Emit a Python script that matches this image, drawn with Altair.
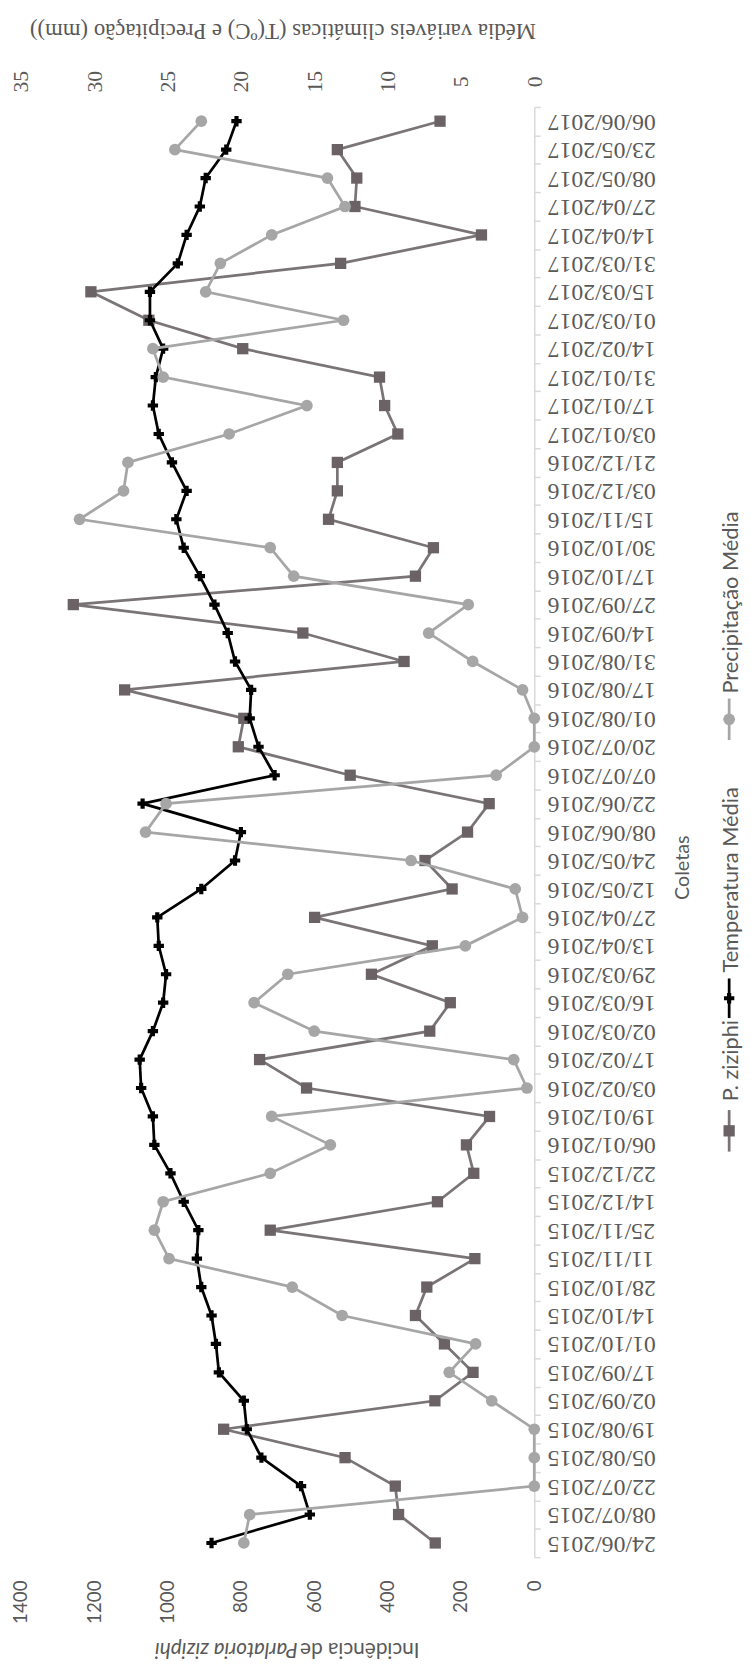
import altair as alt
import pandas as pd

dates = ["24/06/2015", "08/07/2015", "22/07/2015", "05/08/2015", "19/08/2015", "02/09/2015",
         "17/09/2015", "01/10/2015", "14/10/2015", "28/10/2015", "11/11/2015", "25/11/2015",
         "14/12/2015", "22/12/2015", "06/01/2016", "19/01/2016", "03/02/2016", "17/02/2016",
         "02/03/2016", "16/03/2016", "29/03/2016", "13/04/2016", "27/04/2016", "12/05/2016",
         "24/05/2016", "08/06/2016", "22/06/2016", "07/07/2016", "20/07/2016", "01/08/2016",
         "17/08/2016", "31/08/2016", "14/09/2016", "27/09/2016", "17/10/2016", "30/10/2016",
         "15/11/2016", "03/12/2016", "21/12/2016", "03/01/2017", "17/01/2017", "31/01/2017",
         "14/02/2017", "01/03/2017", "15/03/2017", "31/03/2017", "14/04/2017", "27/04/2017",
         "08/05/2017", "23/05/2017", "06/06/2017"]

p_ziziphi = [270, 370, 379, 516, 847, 271, 167, 245, 324, 293, 162, 720, 264, 165, 185, 122,
             621, 749, 285, 229, 444, 278, 599, 224, 298, 182, 123, 502, 807, 792, 1117, 355,
             631, 1257, 324, 275, 561, 537, 537, 372, 408, 422, 795, 1051, 1209, 528, 144,
             489, 484, 537, 257]

temperatura = [22.0, 15.3, 15.9, 18.6, 19.6, 19.8, 21.5, 21.7, 22.0, 22.7, 23.0, 22.9, 23.9,
               24.8, 25.9, 26.0, 26.8, 26.9, 26.0, 25.3, 25.1, 25.6, 25.7, 22.7, 20.4, 20.0,
               26.7, 17.7, 18.8, 19.4, 19.3, 20.4, 20.9, 21.8, 22.8, 23.9, 24.4, 23.7, 24.7,
               25.6, 26.0, 25.8, 25.3, 26.2, 26.2, 24.3, 23.7, 22.8, 22.4, 21.0, 20.3]

precipitacao = [19.8, 19.4, 0.0, 0.0, 0.0, 2.9, 5.8, 4.0, 13.1, 16.5, 24.9, 25.9, 25.3, 18.0,
                13.9, 17.9, 0.5, 1.4, 15.0, 19.1, 16.8, 4.7, 0.8, 1.3, 8.4, 26.5, 25.1, 2.6,
                0.0, 0.0, 0.8, 4.2, 7.2, 4.5, 16.4, 18.0, 31.0, 28.0, 27.7, 20.8, 15.5, 25.3,
                26.0, 13.0, 22.4, 21.4, 17.9, 12.9, 14.1, 24.5, 22.7]

inc_ticks = [0, 200, 400, 600, 800, 1000, 1200, 1400]
clim_ticks = [0, 5, 10, 15, 20, 25, 30, 35]

SERIF = "Liberation Serif"
SANS = "Lato"
TXT = "#595959"
C_PZ_LINE = "#7a7476"
C_PZ_PT = "#6a6264"
C_T = "#000000"
C_P = "#a6a6a6"

W, H = 519, 1466

idx = list(range(len(dates)))
df_inc = pd.DataFrame({"Coleta": dates, "idx": idx, "inc": p_ziziphi})
df_t = pd.DataFrame({"Coleta": dates, "idx": idx, "val": temperatura})
df_p = pd.DataFrame({"Coleta": dates, "idx": idx, "val": precipitacao})

y_enc = alt.Y(
    "Coleta:N",
    sort=dates[::-1],
    scale=alt.Scale(type="band", paddingInner=0, paddingOuter=0),
    axis=alt.Axis(
        orient="right", title=None, grid=False,
        labelAngle=180, labelAlign="right", labelBaseline="middle",
        labelFont=SERIF, labelFontSize=24, labelColor=TXT, labelPadding=7,
        domainColor="#d9d9d9", domainWidth=1.5, tickColor="#d9d9d9", tickSize=6,
        tickWidth=1.5, tickBand="extent", labelOverlap=False,
    ),
)

x_inc = alt.X(
    "inc:Q",
    scale=alt.Scale(domain=[0, 1400], reverse=True, nice=False),
    axis=alt.Axis(
        orient="bottom", values=inc_ticks, format="d", title=None, grid=False, domain=False,
        ticks=False, tickSize=0, labelAngle=270, labelAlign="right",
        labelBaseline="middle", labelPadding=23, labelFlush=False,
        labelFont=SANS, labelFontSize=19, labelColor=TXT,
    ),
)

x_clim = alt.X(
    "val:Q",
    scale=alt.Scale(domain=[0, 35], reverse=True, nice=False),
    axis=alt.Axis(
        orient="top", values=clim_ticks, format="d", title=None, grid=False, domain=False,
        ticks=False, tickSize=0, labelAngle=270, labelAlign="center",
        labelBaseline="middle", labelPadding=26, labelFlush=False,
        labelFont=SERIF, labelFontSize=22, labelColor=TXT,
    ),
)

order = alt.Order("idx:Q")

base_inc = alt.Chart(df_inc).encode(x=x_inc, y=y_enc, order=order)
layer_inc = alt.layer(
    base_inc.mark_line(color=C_PZ_LINE, strokeWidth=2.75),
    base_inc.mark_point(shape="square", filled=True, size=130, color=C_PZ_PT, opacity=1),
)

base_t = alt.Chart(df_t).encode(x=x_clim, y=y_enc, order=order)
base_p = alt.Chart(df_p).encode(x=x_clim, y=y_enc, order=order)
layer_clim = alt.layer(
    base_t.mark_line(color=C_T, strokeWidth=2.75),
    base_t.mark_point(shape="cross", filled=True, size=110, color=C_T, opacity=1),
    base_p.mark_line(color=C_P, strokeWidth=2.75),
    base_p.mark_point(shape="circle", filled=True, size=140, color=C_P, opacity=1),
)

one = pd.DataFrame({"k": [0]})


def txt(s, x, y, angle, align, font, size, style="normal"):
    return alt.Chart(one).mark_text(
        text=s, angle=angle, align=align, baseline="middle", font=font,
        fontSize=size, fontStyle=style, color=TXT,
    ).encode(x=alt.value(x), y=alt.value(y))


def rule(x, y1, y2, color):
    return alt.Chart(one).mark_rule(color=color, strokeWidth=2.75).encode(
        x=alt.value(x), y=alt.value(y1), y2=alt.value(y2))


def sym(x, y, shape, color, size):
    return alt.Chart(one).mark_point(shape=shape, filled=True, size=size, color=color,
                                     opacity=1).encode(x=alt.value(x), y=alt.value(y))


extras = [
    txt("Média variáveis climáticas (T(ºC) e Precipitação (mm))", 265, -77, 180, "center", SERIF, 23),
    txt("Incidência de", 403, 1559, 180, "left", SANS, 21),
    txt("Parlatoria ziziphi", 280, 1559, 180, "left", SANS, 21, "italic"),
    txt("Coletas", 669, 769, 270, "center", SANS, 20),
    # legend
    rule(716, 1014, 1056, C_PZ_LINE), sym(716, 1035, "square", C_PZ_PT, 130),
    txt("P. ziziphi", 718, 1005, 270, "left", SANS, 22),
    rule(716, 881, 921, C_T), sym(716, 901, "cross", C_T, 110),
    txt("Temperatura Média", 718, 875, 270, "left", SANS, 22),
    rule(716, 598, 640, C_P), sym(716, 619, "circle", C_P, 140),
    txt("Precipitação Média", 718, 593, 270, "left", SANS, 22),
]

chart = alt.layer(layer_inc, layer_clim, *extras).resolve_scale(x="independent").properties(
    width=W, height=H,
    padding={"left": 13, "top": 91, "right": 211, "bottom": 106},
    autosize=alt.AutoSizeParams(type="none"),
    background="white",
).configure_view(strokeWidth=0)

chart.save("out.html", embed_options={"renderer": "svg", "actions": False})
